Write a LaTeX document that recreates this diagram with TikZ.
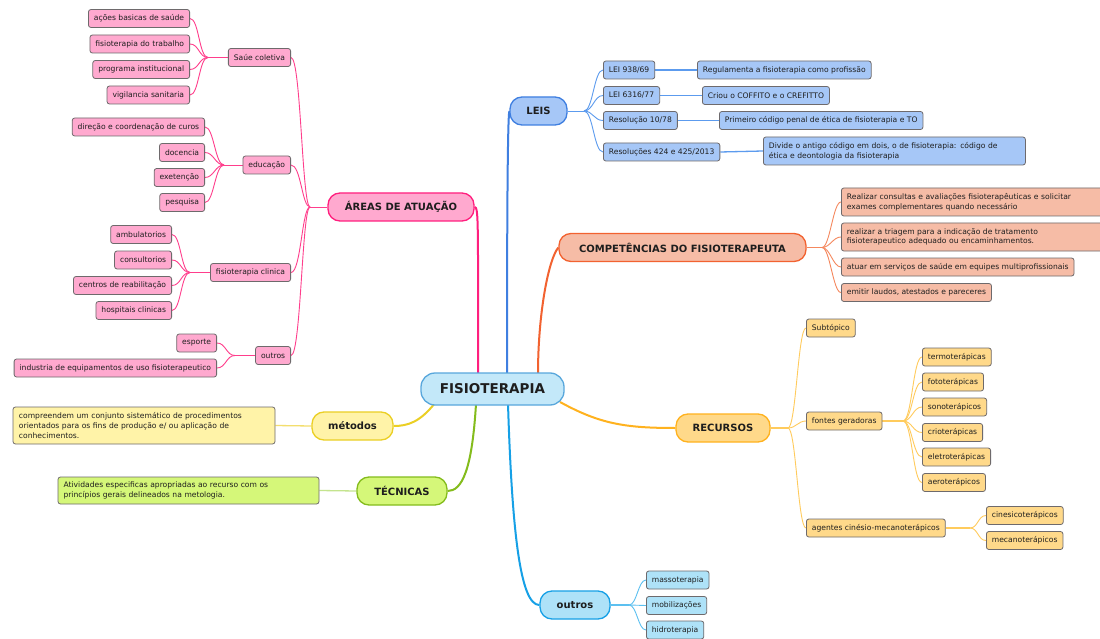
\documentclass[tikz,border=0pt]{standalone}
\usepackage{fontspec}
\setmainfont{DejaVu Sans}
\usetikzlibrary{backgrounds}
\definecolor{cenfill}{HTML}{C3E8F9}\definecolor{cenline}{HTML}{58A7DC}
\definecolor{pkfill}{HTML}{FFA9CF}\definecolor{pkline}{HTML}{FF3E8C}\definecolor{pkmain}{HTML}{FF1F7E}
\definecolor{blfill}{HTML}{A6C7F7}\definecolor{blline}{HTML}{3F7FE0}\definecolor{blthin}{HTML}{5C9BEE}
\definecolor{ocfill}{HTML}{F6BCA6}\definecolor{ocline}{HTML}{F26230}\definecolor{octhin}{HTML}{F5885E}
\definecolor{yefill}{HTML}{FFD98A}\definecolor{yeline}{HTML}{FFB21E}\definecolor{yethin}{HTML}{FFCB5C}
\definecolor{cyfill}{HTML}{AEE2F8}\definecolor{cyline}{HTML}{16A0E6}\definecolor{cythin}{HTML}{5CC0F0}
\definecolor{grfill}{HTML}{D5F779}\definecolor{grline}{HTML}{84BC1C}\definecolor{grthin}{HTML}{C4E48E}
\definecolor{mtfill}{HTML}{FFF3A8}\definecolor{mtline}{HTML}{EBCF24}\definecolor{mtthin}{HTML}{F3DE6E}
\definecolor{leafbd}{HTML}{6E6A6C}\definecolor{txt}{HTML}{1E1E1E}
\tikzset{
  leaf/.style={draw=leafbd, line width=0.8pt, rounded corners=2.5pt, text=txt,
    font=\fontsize{7.6}{9.6}\selectfont, inner xsep=5.5pt, inner ysep=0pt, minimum height=18pt},
  mainnode/.style={line width=1.3pt, rounded corners=12pt, text=txt,
    font=\bfseries\fontsize{10}{12}\selectfont, minimum height=28pt, inner sep=0pt},
  thinln/.style={line width=0.9pt},
  thickln/.style={line width=2pt}
}
\begin{document}
\begin{tikzpicture}[x=1pt,y=-1pt]
\useasboundingbox (0,0) rectangle (1100,639);

% central and main nodes
\node[mainnode, fill=cenfill, draw=cenline, minimum width=143pt, minimum height=32pt, rounded corners=14pt,
  font=\bfseries\fontsize{13.5}{15}\selectfont] (fis) at (492.5,389) {FISIOTERAPIA};
\node[mainnode, fill=pkfill, draw=pkmain, minimum width=146pt] (areas) at (401,207) {ÁREAS DE ATUAÇÃO};
\node[mainnode, fill=blfill, draw=blline, minimum width=57pt] (leis) at (538.5,111) {LEIS};
\node[mainnode, fill=ocfill, draw=ocline, minimum width=247pt] (comp) at (682.5,247.5) {COMPETÊNCIAS DO FISIOTERAPEUTA};
\node[mainnode, fill=yefill, draw=yeline, minimum width=94pt] (rec) at (723,428) {RECURSOS};
\node[mainnode, fill=cyfill, draw=cyline, minimum width=70pt] (outb) at (575,605) {outros};
\node[mainnode, fill=grfill, draw=grline, minimum width=90pt] (tec) at (402,491) {TÉCNICAS};
\node[mainnode, fill=mtfill, draw=mtline, minimum width=81pt] (met) at (352.5,426) {métodos};

% descriptions of métodos / técnicas
\node[leaf, fill=mtfill, minimum width=262pt, minimum height=37pt, align=left, text width=250pt,
  font=\fontsize{7.6}{10.4}\selectfont] (md) at (144,425.5)
  {compreendem um conjunto sistemático de procedimentos\\orientados para os fins de produção e/ ou aplicação de\\conhecimentos.};
\node[leaf, fill=grfill, minimum width=261pt, minimum height=27pt, align=left, text width=250pt,
  font=\fontsize{7.6}{10.4}\selectfont] (td) at (188.5,490.5)
  {Atividades especificas apropriadas ao recurso com os\\princípios gerais delineados na metologia.};

% ÁREAS DE ATUAÇÃO subtree
\coordinate (ja) at (310,207);
\node[leaf, fill=pkfill, anchor=east] (sc) at (291,57.5) {Saúe coletiva};
\node[leaf, fill=pkfill, anchor=east] (a11) at (190,18.5) {ações basicas de saúde};
\node[leaf, fill=pkfill, anchor=east] (a12) at (190,44) {fisioterapia do trabalho};
\node[leaf, fill=pkfill, anchor=east] (a13) at (190,69.5) {programa institucional};
\node[leaf, fill=pkfill, anchor=east] (a14) at (190,95) {vigilancia sanitaria};
\coordinate (j1) at (208,57.5);
\node[leaf, fill=pkfill, anchor=east] (edu) at (291,165) {educação};
\node[leaf, fill=pkfill, anchor=east] (a21) at (205,127) {direção e coordenação de curos};
\node[leaf, fill=pkfill, anchor=east] (a22) at (205,152.5) {docencia};
\node[leaf, fill=pkfill, anchor=east] (a23) at (205,177.5) {exetenção};
\node[leaf, fill=pkfill, anchor=east] (a24) at (205,202.5) {pesquisa};
\coordinate (j2) at (224,165);
\node[leaf, fill=pkfill, anchor=east] (fc) at (291,272.5) {fisioterapia clinica};
\node[leaf, fill=pkfill, anchor=east] (a31) at (172,234.5) {ambulatorios};
\node[leaf, fill=pkfill, anchor=east] (a32) at (172,260) {consultorios};
\node[leaf, fill=pkfill, anchor=east] (a33) at (172,285.5) {centros de reabilitação};
\node[leaf, fill=pkfill, anchor=east] (a34) at (172,310.5) {hospitais clinicas};
\coordinate (j3) at (190,272.5);
\node[leaf, fill=pkfill, anchor=east] (ou) at (291,355.5) {outros};
\node[leaf, fill=pkfill, anchor=east] (a41) at (217,343) {esporte};
\node[leaf, fill=pkfill, anchor=east] (a42) at (217,368) {industria de equipamentos de uso fisioterapeutico};
\coordinate (j4) at (235,355.5);

% LEIS subtree
\coordinate (jl) at (584,111);
\node[leaf, fill=blfill, anchor=west] (l1) at (603,70) {LEI 938/69};
\node[leaf, fill=blfill, anchor=west] (d1) at (697,70) {Regulamenta a fisioterapia como profissão};
\node[leaf, fill=blfill, anchor=west] (l2) at (603,95.5) {LEI 6316/77};
\node[leaf, fill=blfill, anchor=west] (d2) at (702,95.5) {Criou o COFFITO e o CREFITTO};
\node[leaf, fill=blfill, anchor=west] (l3) at (603,120.5) {Resolução 10/78};
\node[leaf, fill=blfill, anchor=west] (d3) at (719,120.5) {Primeiro código penal de ética de fisioterapia e TO};
\node[leaf, fill=blfill, anchor=west] (l4) at (603,152) {Resoluções 424 e 425/2013};
\node[leaf, fill=blfill, anchor=west, align=left, minimum width=262pt, text width=251pt, minimum height=28pt] (d4) at (763,151)
  {Divide o antigo código em dois, o de fisioterapia: código de\\ética e deontologia da fisioterapia};

% COMPETÊNCIAS subtree
\coordinate (jc) at (822,247.5);
\node[leaf, fill=ocfill, anchor=west, align=left, minimum width=262pt, text width=251pt, minimum height=28pt] (c1) at (841,202)
  {Realizar consultas e avaliações fisioterapêuticas e solicitar\\exames complementares quando necessário};
\node[leaf, fill=ocfill, anchor=west, align=left, minimum width=262pt, text width=251pt, minimum height=28pt] (c2) at (841,237)
  {realizar a triagem para a indicação de tratamento\\fisioterapeutico adequado ou encaminhamentos.};
\node[leaf, fill=ocfill, anchor=west] (c3) at (841,267) {atuar em serviços de saúde em equipes multiprofissionais};
\node[leaf, fill=ocfill, anchor=west] (c4) at (841,292.5) {emitir laudos, atestados e pareceres};

% RECURSOS subtree
\coordinate (jr) at (788,428);
\node[leaf, fill=yefill, anchor=west] (r1) at (806,328) {Subtópico};
\node[leaf, fill=yefill, anchor=west] (r2) at (806,421) {fontes geradoras};
\node[leaf, fill=yefill, anchor=west] (r3) at (806,528) {agentes cinésio-mecanoterápicos};
\coordinate (jf) at (903,421);
\node[leaf, fill=yefill, anchor=west] (f1) at (922,357) {termoterápicas};
\node[leaf, fill=yefill, anchor=west] (f2) at (922,382) {fototerápicas};
\node[leaf, fill=yefill, anchor=west] (f3) at (922,407) {sonoterápicos};
\node[leaf, fill=yefill, anchor=west] (f4) at (922,432.5) {crioterápicas};
\node[leaf, fill=yefill, anchor=west] (f5) at (922,457) {eletroterápicas};
\node[leaf, fill=yefill, anchor=west] (f6) at (922,482.5) {aeroterápicos};
\coordinate (jg) at (970,528);
\node[leaf, fill=yefill, anchor=west] (g1) at (986,515.5) {cinesicoterápicos};
\node[leaf, fill=yefill, anchor=west] (g2) at (986,540.5) {mecanoterápicos};

% outros subtree
\coordinate (jo) at (629,605);
\node[leaf, fill=cyfill, anchor=west] (o1) at (646,580) {massoterapia};
\node[leaf, fill=cyfill, anchor=west] (o2) at (646,605.5) {mobilizações};
\node[leaf, fill=cyfill, anchor=west] (o3) at (646,630) {hidroterapia};

\begin{scope}[on background layer]
\fill[white] (0,0) rectangle (1100,639);
% main branches
\draw[thickln, pkmain] (areas.east) .. controls +(4,0) and +(0,-150) .. (478,374);
\draw[thickln, blline] (leis.west) .. controls +(-2,8) and +(0,-120) .. (507,374);
\draw[thickln, ocline] (comp.west) .. controls +(-10,12) and +(0,-60) .. (538,374);
\draw[thickln, yeline] (560,402) .. controls +(40,22) and +(-50,0) .. (rec.west);
\draw[thickln, cyline] (508,404) .. controls (512,530) and (520,605) .. (outb.west);
\draw[thickln, grline] (476,404) .. controls (472,470) and (462,491) .. (tec.east);
\draw[thickln, mtline] (435,403) .. controls (420,422) and (408,426) .. (met.east);
% description links
\draw[line width=1.3pt, mtthin] (met.west) -- (md.east);
\draw[line width=1.3pt, grthin] (tec.west) -- (td.east);
% areas
\draw[thinln, pkline] (areas.west) -- (ja);
\foreach \c in {sc,edu,fc,ou} \draw[thinln, pkline] (ja) .. controls +(-8,0) and +(10,0) .. (\c.east);
\draw[thinln, pkline] (sc.west) -- (j1);
\foreach \c in {a11,a12,a13,a14} \draw[thinln, pkline] (j1) .. controls +(-9,0) and +(9,0) .. (\c.east);
\draw[thinln, pkline] (edu.west) -- (j2);
\foreach \c in {a21,a22,a23,a24} \draw[thinln, pkline] (j2) .. controls +(-9,0) and +(9,0) .. (\c.east);
\draw[thinln, pkline] (fc.west) -- (j3);
\foreach \c in {a31,a32,a33,a34} \draw[thinln, pkline] (j3) .. controls +(-9,0) and +(9,0) .. (\c.east);
\draw[thinln, pkline] (ou.west) -- (j4);
\foreach \c in {a41,a42} \draw[thinln, pkline] (j4) .. controls +(-9,0) and +(9,0) .. (\c.east);
% leis
\draw[thinln, blthin] (leis.east) -- (jl);
\foreach \c in {l1,l2,l3,l4} \draw[thinln, blthin] (jl) .. controls +(9,0) and +(-9,0) .. (\c.west);
\draw[line width=1.3pt, blthin] (l1.east) -- (d1.west);
\draw[line width=1.3pt, blthin] (l2.east) -- (d2.west);
\draw[line width=1.3pt, blthin] (l3.east) -- (d3.west);
\draw[line width=1.3pt, blthin] (l4.east) -- (d4.west);
% competencias
\draw[line width=1.3pt, octhin] (comp.east) -- (jc);
\foreach \c in {c1,c2,c3,c4} \draw[thinln, octhin] (jc) .. controls +(8,0) and +(-8,0) .. (\c.west);
% recursos
\draw[line width=1.3pt, yethin] (rec.east) -- (jr);
\foreach \c in {r1,r2,r3} \draw[thinln, yethin] (jr) .. controls +(8,0) and +(-8,0) .. (\c.west);
\draw[line width=1.3pt, yethin] (r2.east) -- (jf);
\foreach \c in {f1,f2,f3,f4,f5,f6} \draw[thinln, yethin] (jf) .. controls +(9,0) and +(-9,0) .. (\c.west);
\draw[line width=1.3pt, yethin] (r3.east) -- (jg);
\foreach \c in {g1,g2} \draw[thinln, yethin] (jg) .. controls +(8,0) and +(-8,0) .. (\c.west);
% outros
\draw[line width=1.3pt, cythin] (outb.east) -- (jo);
\foreach \c in {o1,o2,o3} \draw[thinln, cythin] (jo) .. controls +(8,0) and +(-8,0) .. (\c.west);
\end{scope}
\end{tikzpicture}
\end{document}
